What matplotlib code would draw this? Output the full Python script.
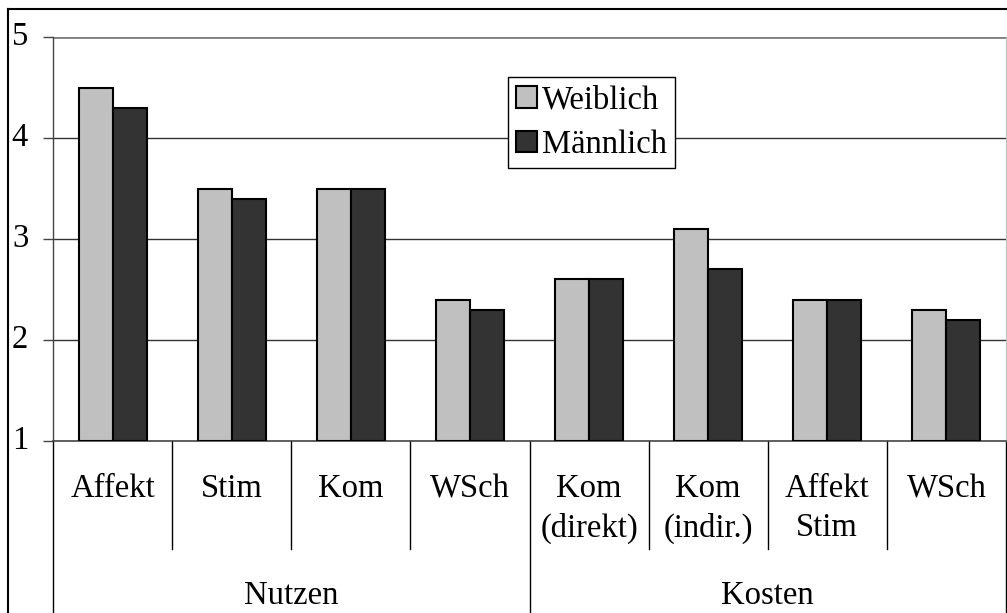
import matplotlib
matplotlib.use("Agg")
import matplotlib.pyplot as plt
import numpy as np
from matplotlib.transforms import blended_transform_factory
from matplotlib.lines import Line2D
from matplotlib.patches import Patch

plt.rcParams['font.family'] = ['Liberation Serif', 'DejaVu Serif']

categories = ["Affekt", "Stim", "Kom", "WSch", "Kom\n(direkt)", "Kom\n(indir.)", "Affekt\nStim", "WSch"]
groups = ["Nutzen", "Kosten"]
weiblich = [4.5, 3.5, 3.5, 2.4, 2.6, 3.1, 2.4, 2.3]
maennlich = [4.3, 3.4, 3.5, 2.3, 2.6, 2.7, 2.4, 2.2]
series_names = ["Weiblich", "Männlich"]
yticks = [1, 2, 3, 4, 5]

FS = 23.5
W, H = 1007, 613
fig = plt.figure(figsize=(W / 100, H / 100), dpi=100)
ax = fig.add_axes([53 / W, 1 - 441 / H, (1006 - 53) / W, (441 - 37) / H])

n = len(categories)
x = np.arange(n)
bw = 34 / 119.1
c_w = "#c0c0c0"
c_m = "#333333"
ax.bar(x - bw / 2, np.array(weiblich) - 1, bw, bottom=1, color=c_w, edgecolor="black", linewidth=1.5, zorder=3)
ax.bar(x + bw / 2, np.array(maennlich) - 1, bw, bottom=1, color=c_m, edgecolor="black", linewidth=1.5, zorder=3)

ax.set_xlim(-0.5, n - 0.5)
ax.set_ylim(1, 5)
ax.set_yticks(yticks)
ax.tick_params(axis='y', length=7.5, width=1, color="#444444", labelleft=False)
ax.tick_params(axis='x', bottom=False, labelbottom=False)

# y tick labels placed at the left edge
ytr = blended_transform_factory(fig.transFigure, ax.transData)
for t in yticks:
    ax.text(20 / W, t, str(t), transform=ytr, ha="center", va="center", fontsize=FS, clip_on=False)

for yv in [2, 3, 4]:
    ax.axhline(yv, color="#333333", linewidth=1, zorder=1)
ax.axhline(5, color="#808080", linewidth=2, zorder=1)

ax.spines["top"].set_visible(False)
ax.spines["right"].set_color("#c0c0c0")
ax.spines["left"].set_color("#444444")
ax.spines["bottom"].set_color("#444444")
ax.spines["left"].set_linewidth(1)
ax.spines["bottom"].set_linewidth(1.2)

# category labels
tr = blended_transform_factory(ax.transData, fig.transFigure)
line_y = [1 - 489 / H, 1 - 528 / H]
for i, lab in enumerate(categories):
    for j, part in enumerate(lab.split("\n")):
        ax.text(i, line_y[j], part, transform=tr, ha="center", va="center", fontsize=FS, clip_on=False)

group_y = 1 - 596 / H
per_group = n // len(groups)
for g, name in enumerate(groups):
    xc = g * per_group + (per_group - 1) / 2
    ax.text(xc, group_y, name, transform=tr, ha="center", va="center", fontsize=FS, clip_on=False)

# separators
for k in range(n + 1):
    xs = k - 0.5
    if k % per_group == 0:
        y0 = -0.02
    else:
        y0 = 1 - 549 / H
    ax.add_line(Line2D([xs, xs], [1 - 441 / H, y0], transform=tr, color="black", linewidth=1, clip_on=False))

# outer frame
fig.add_artist(Line2D([8 / W, 8 / W], [1 - 9 / H, 0], transform=fig.transFigure, color="black", linewidth=1.5))
fig.add_artist(Line2D([8 / W, 1], [1 - 9 / H, 1 - 9 / H], transform=fig.transFigure, color="black", linewidth=1.5))

handles = [Patch(facecolor=c_w, edgecolor="black", linewidth=1.5), Patch(facecolor=c_m, edgecolor="black", linewidth=1.5)]
leg = ax.legend(handles, series_names, loc="upper left", bbox_to_anchor=((508 - 53) / (1006 - 53), (441 - 77) / (441 - 37)),
                fontsize=FS, frameon=True, fancybox=False, edgecolor="black", framealpha=1,
                handlelength=0.65, handleheight=0.65, handletextpad=0.15, borderpad=0.25, labelspacing=0.42, borderaxespad=0)
leg.get_frame().set_linewidth(1)
leg.set_zorder(5)

fig.savefig("out.png", dpi=100)
